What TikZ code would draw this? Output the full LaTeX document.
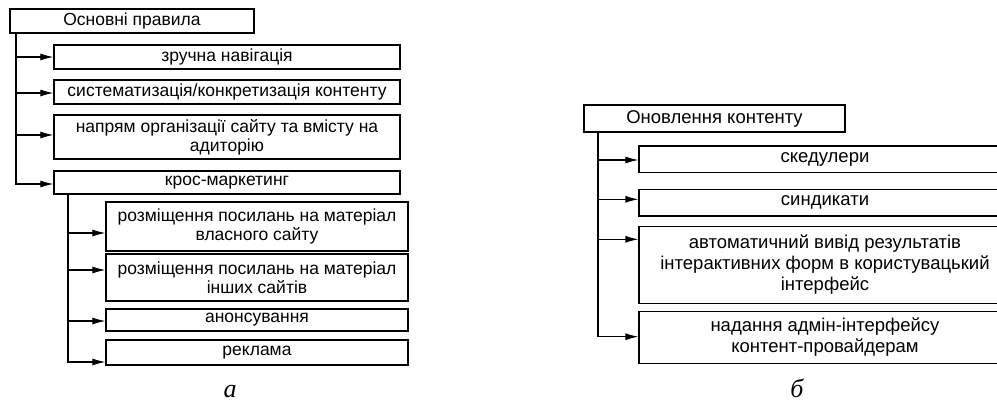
\documentclass[tikz,border=0pt]{standalone}
\usepackage{fontspec}
\setmainfont{Liberation Sans}
\newfontfamily\capfont{Liberation Serif}
\usetikzlibrary{arrows.meta}
\begin{document}
\begin{tikzpicture}[x=1pt,y=-1pt,
  box/.style={draw, line width=1.2pt, inner sep=0pt, align=center, font=\fontsize{17.5}{19}\selectfont},
  bigbox/.style={box, font=\fontsize{18.5}{21}\selectfont},
  arr/.style={line width=1.1pt, -{Latex[length=13pt,width=7pt]}},
  capt/.style={anchor=base, font=\capfont\itshape\fontsize{26}{30}\selectfont}]
\useasboundingbox (0,0) rectangle (997,402);
\clip (0,0) rectangle (997,402);
% left tree
\node[box, minimum width=244pt, minimum height=24pt] (r0) at (132,21) {Основні правила};
\node[box, minimum width=346pt, minimum height=24pt] (r1) at (227,57) {зручна навігація};
\node[box, minimum width=346pt, minimum height=24pt] (r2) at (227,92) {систематизація/конкретизація контенту};
\node[box, minimum width=346pt, minimum height=44pt] (r3) at (227,137) {напрям організації сайту та вмісту на\\адиторію};
\node[box, minimum width=346pt, minimum height=23pt] (r4) at (227,182.5) {крос-маркетинг};
\coordinate (t1) at (16,57);
\coordinate (t2) at (16,93);
\coordinate (t3) at (16,135);
\coordinate (t4) at (16,184);
\draw[arr] (r0.south -| t4) |- (r4.west |- t4);
\draw[arr] (t1) -- (t1 -| r1.west);
\draw[arr] (t2) -- (t2 -| r2.west);
\draw[arr] (t3) -- (t3 -| r3.west);
\node[box, minimum width=302pt, minimum height=49pt] (k1) at (257,226.5) {розміщення посилань на матеріал\\власного сайту};
\node[box, minimum width=302pt, minimum height=47pt] (k2) at (257,277.5) {розміщення посилань на матеріал\\інших сайтів};
\node[box, minimum width=302pt, minimum height=22pt] (k3) at (257,320) {анонсування};
\node[box, minimum width=302pt, minimum height=25pt] (k4) at (257,352.5) {реклама};
\coordinate (m1) at (68,233);
\coordinate (m2) at (68,270);
\coordinate (m3) at (68,321);
\coordinate (m4) at (68,362);
\draw[arr] (r4.south -| m4) |- (k4.west |- m4);
\draw[arr] (m1) -- (m1 -| k1.west);
\draw[arr] (m2) -- (m2 -| k2.west);
\draw[arr] (m3) -- (m3 -| k3.west);
\node[capt] (ca) at (230,397) {а};
% right tree
\node[bigbox, minimum width=261pt, minimum height=27pt] (o0) at (714.5,118.5) {Оновлення контенту};
\node[bigbox, minimum width=372pt, minimum height=26.7pt] (o1) at (825,159.3) {скедулери};
\node[bigbox, minimum width=372pt, minimum height=26.7pt] (o2) at (825,202.7) {синдикати};
\node[bigbox, minimum width=372pt, minimum height=76.6pt] (o3) at (825,265) {автоматичний вивід результатів\\інтерактивних форм в користувацький\\інтерфейс};
\node[bigbox, minimum width=372pt, minimum height=51.6pt] (o4) at (825,337.5) {надання адмін-інтерфейсу\\контент-провайдерам};
\coordinate (s1) at (598,160);
\coordinate (s2) at (598,199.3);
\coordinate (s3) at (598,239.3);
\coordinate (s4) at (598,336.7);
\draw[arr] (o0.south -| s4) |- (o4.west |- s4);
\draw[arr] (s1) -- (s1 -| o1.west);
\draw[arr] (s2) -- (s2 -| o2.west);
\draw[arr] (s3) -- (s3 -| o3.west);
\node[capt] (cb) at (797,397) {б};
\end{tikzpicture}
\end{document}
